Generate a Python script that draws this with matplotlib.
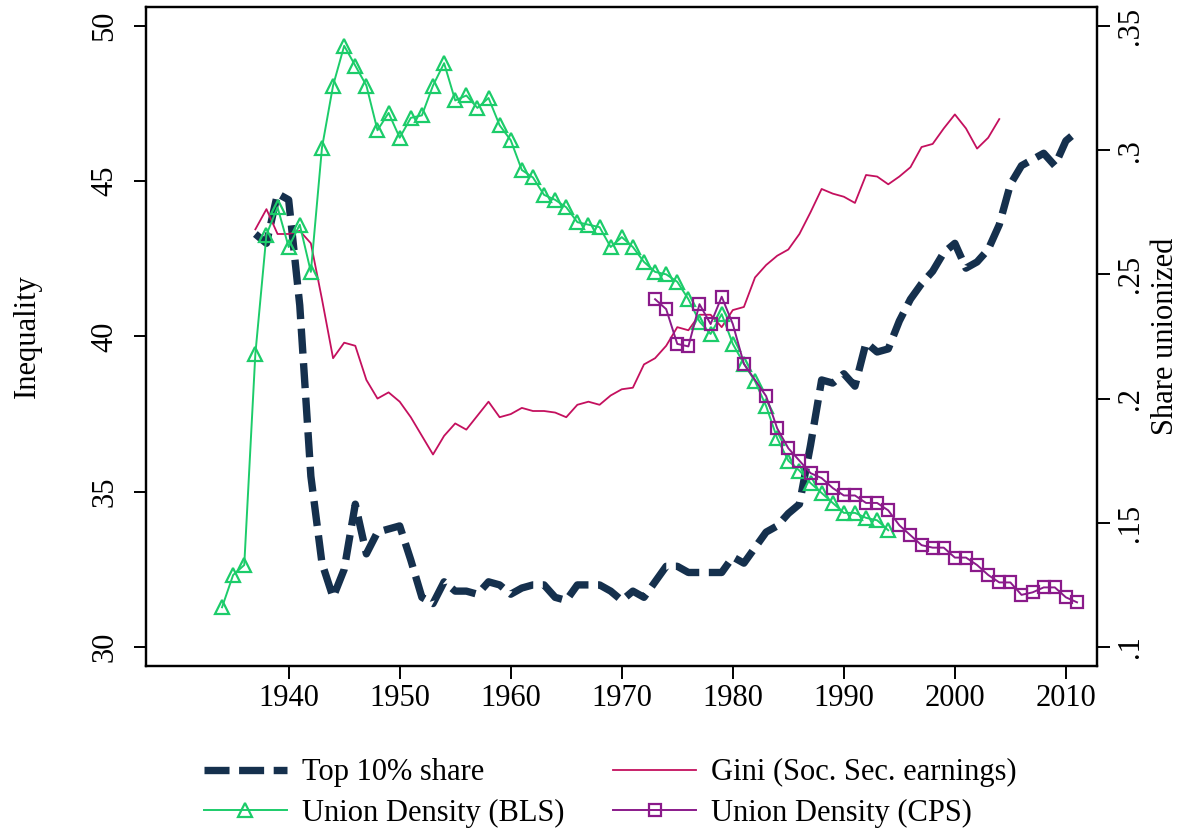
import matplotlib
matplotlib.use("Agg")
import matplotlib.pyplot as plt
import numpy as np

plt.rcParams['font.family'] = ['Liberation Serif', 'DejaVu Serif']
plt.rcParams['font.size'] = 22

# top 10% income share, 1937-2011
top10_years = np.arange(1937, 2012)
top10 = [43.3, 43.0, 44.6,
         44.4, 41.0, 35.5, 32.7, 31.6, 32.5, 34.6, 33.0, 33.7, 33.8,
         33.9, 32.8, 31.6, 31.4, 32.1, 31.8, 31.8, 31.7, 32.1, 32.0,
         31.7, 31.9, 32.0, 32.0, 31.6, 31.5, 32.0, 32.0, 32.0, 31.8,
         31.5, 31.8, 31.6, 32.1, 32.6, 32.6, 32.4, 32.4, 32.4, 32.4,
         32.9, 32.7, 33.2, 33.7, 33.9, 34.3, 34.6, 36.5, 38.6, 38.5,
         38.8, 38.4, 39.8, 39.5, 39.6, 40.5, 41.2, 41.7, 42.1, 42.7,
         43.0, 42.2, 42.4, 42.8, 43.6, 44.9, 45.5, 45.7, 45.9, 45.5,
         46.3, 46.6]

# gini of soc. sec. earnings, 1937-2004
gini_years = np.arange(1937, 2005)
gini = [43.45, 44.1, 43.3,
        43.3, 43.4, 43.0, 41.2, 39.3, 39.8, 39.7, 38.6, 38.0, 38.2,
        37.9, 37.4, 36.8, 36.2, 36.8, 37.2, 37.0, 37.45, 37.9, 37.4,
        37.5, 37.7, 37.6, 37.6, 37.55, 37.4, 37.8, 37.9, 37.8, 38.1,
        38.3, 38.35, 39.1, 39.3, 39.7, 40.3, 40.2, 40.7, 40.7, 40.3,
        40.85, 40.95, 41.9, 42.3, 42.6, 42.8, 43.3, 44.0, 44.75, 44.6,
        44.5, 44.3, 45.2, 45.15, 44.9, 45.15, 45.45, 46.1, 46.2, 46.7,
        47.15, 46.7, 46.05, 46.4, 47.0]

# union density BLS, 1934-1994
bls_years = np.arange(1934, 1995)
bls = [0.116, 0.129, 0.133, 0.218, 0.266, 0.277,
       0.261, 0.270, 0.251, 0.301, 0.326, 0.342, 0.334, 0.326, 0.308, 0.315,
       0.305, 0.313, 0.314, 0.326, 0.335, 0.320, 0.322, 0.317, 0.321, 0.310,
       0.304, 0.292, 0.289, 0.282, 0.280, 0.277, 0.271, 0.270, 0.269, 0.261,
       0.265, 0.261, 0.255, 0.251, 0.250, 0.247, 0.240, 0.231, 0.226, 0.234,
       0.222, 0.214, 0.207, 0.197, 0.184, 0.175, 0.171, 0.166, 0.162, 0.158,
       0.154, 0.154, 0.152, 0.151, 0.147]

# union density CPS, 1973-2011 (no 1982)
cps_years = [y for y in range(1973, 2012) if y != 1982]
cps = [0.240, 0.236, 0.222, 0.221, 0.238, 0.230, 0.241, 0.230, 0.214,
       0.201, 0.188, 0.180, 0.175, 0.170, 0.168, 0.164,
       0.161, 0.161, 0.158, 0.158, 0.155, 0.149, 0.145, 0.141, 0.140, 0.140,
       0.136, 0.136, 0.133, 0.129, 0.126, 0.126, 0.121, 0.122, 0.124, 0.124,
       0.120, 0.118]

navy = '#15304d'
cranberry = '#c4105e'
green = '#1ccc6a'
purple = '#8a1a8a'

fig = plt.figure(figsize=(11.83, 8.31), dpi=100)
ax = fig.add_axes([0.1234, 0.1986, 0.8039, 0.793])
ax2 = ax.twinx()

l1, = ax.plot(top10_years, top10, color=navy, lw=5.3, dashes=(3.4, 1.3),
              label='Top 10% share')
l2, = ax.plot(gini_years, gini, color=cranberry, lw=1.3,
              label='Gini (Soc. Sec. earnings)')
l3, = ax2.plot(bls_years, bls, color=green, lw=1.4, marker='^', ms=10,
               mfc='none', mec=green, mew=1.6, label='Union Density (BLS)')
l4, = ax2.plot(cps_years, cps, color=purple, lw=1.4, marker='s', ms=9,
               mfc='none', mec=purple, mew=1.6, label='Union Density (CPS)')

ax.set_xlim(1927.15, 2012.8)
ax.set_ylim(29.39, 50.61)
ax2.set_ylim(0.1 + (29.39 - 30) * 0.0125, 0.1 + 20.61 * 0.0125)

ax.set_xticks(range(1940, 2011, 10))
ax.set_yticks([30, 35, 40, 45, 50])
ax.set_yticklabels(['30', '35', '40', '45', '50'], rotation=90, va='center')
ax2.set_yticks([0.1, 0.15, 0.2, 0.25, 0.3, 0.35])
ax2.set_yticklabels(['.1', '.15', '.2', '.25', '.3', '.35'], rotation=90, va='center')

for a in (ax, ax2):
    a.tick_params(direction='out', length=9, width=1.4)
    for s in a.spines.values():
        s.set_linewidth(1.6)
ax.tick_params(axis='y', pad=10)
ax.tick_params(axis='x', pad=4)
ax2.tick_params(axis='y', pad=5)

ax.set_ylabel('Inequality', va='center')
ax.yaxis.set_label_coords(-0.125, 0.5)
ax2.set_ylabel('Share unionized', va='center')
ax2.yaxis.set_label_coords(1.072, 0.5)

fig.legend([l1, l3, l2, l4],
           [l1.get_label(), l3.get_label(), l2.get_label(), l4.get_label()],
           ncol=2, loc='upper center', bbox_to_anchor=(0.516, 0.106),
           frameon=False, handlelength=2.7, handletextpad=0.5,
           columnspacing=1.6, labelspacing=0.38, borderpad=0)

fig.savefig('out.png', dpi=100)
